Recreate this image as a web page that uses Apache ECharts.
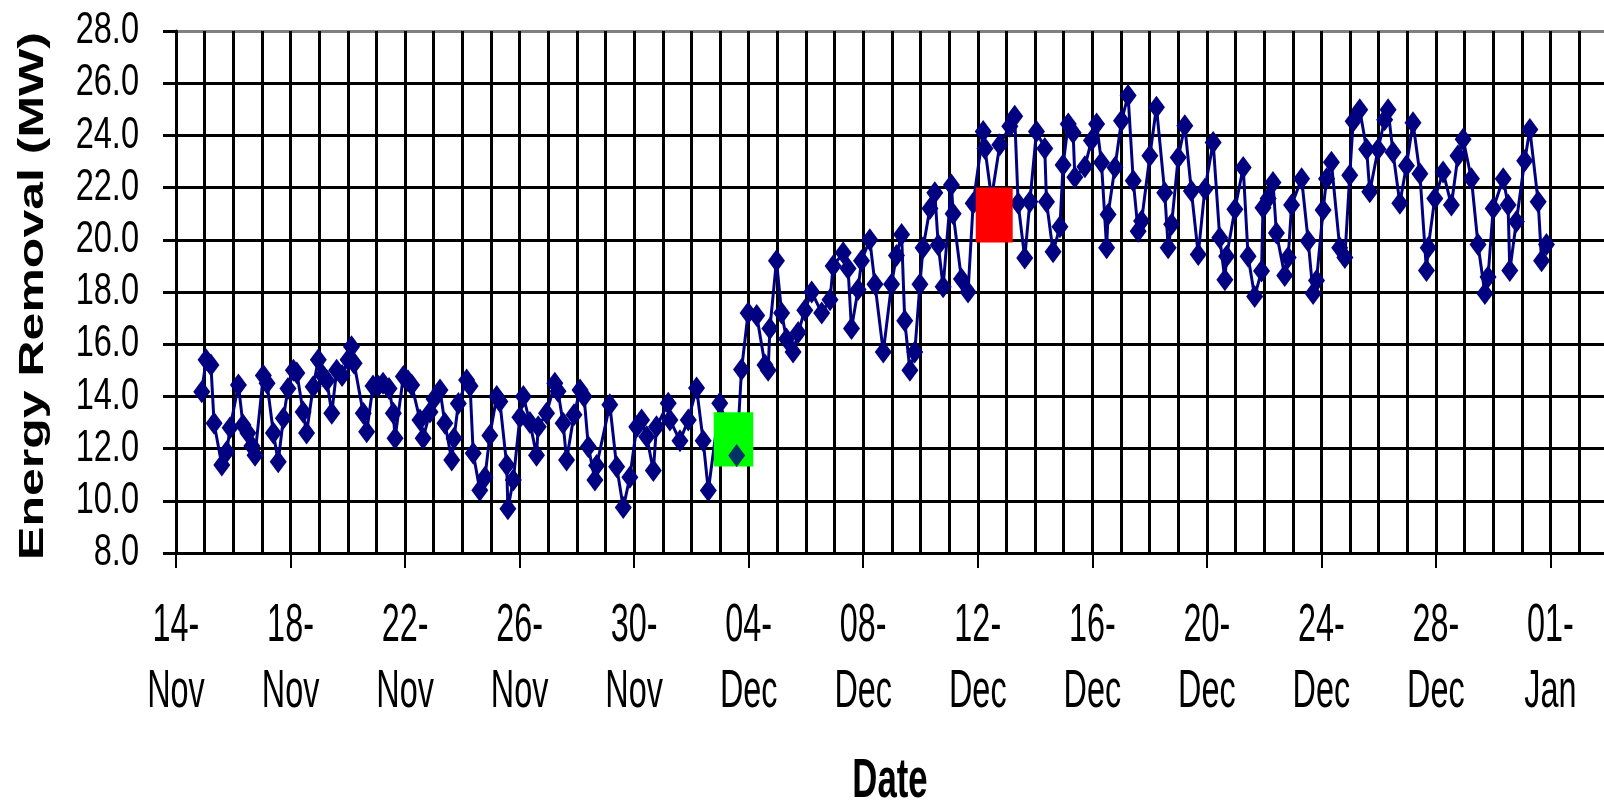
<!DOCTYPE html>
<html>
<head>
<meta charset="utf-8">
<script src="https://cdn.jsdelivr.net/npm/echarts@6/dist/echarts.min.js"></script>
<style>
  html, body { margin: 0; padding: 0; background: #fff; }
  #chart { width: 1604px; height: 802px; }
</style>
</head>
<body>
<div id="chart"></div>
<script>
// X axis: days after 14-Nov; labels every 4 days
const xTickDays = [0, 4, 8, 12, 16, 20, 24, 28, 32, 36, 40, 44, 48];
const xTickLabels = ['14-\nNov', '18-\nNov', '22-\nNov', '26-\nNov', '30-\nNov', '04-\nDec', '08-\nDec',
  '12-\nDec', '16-\nDec', '20-\nDec', '24-\nDec', '28-\nDec', '01-\nJan'];
const yTickValues = [8, 10, 12, 14, 16, 18, 20, 22, 24, 26, 28];
const yTitle = 'Energy Removal (MW)';
const xTitle = 'Date';

// [days after 14-Nov, energy removal MW]
const readingsNov = [
  [0.90, 14.18], [1.05, 15.40], [1.22, 15.20], [1.33, 12.97], [1.60, 11.37], [1.77, 11.88], [1.89, 12.80],
  [2.18, 14.44], [2.34, 12.90], [2.51, 12.60], [2.65, 12.10], [2.76, 11.75], [3.05, 14.80], [3.18, 14.50],
  [3.40, 12.60], [3.57, 11.50], [3.75, 13.16], [3.91, 14.30], [4.10, 15.00], [4.22, 14.90], [4.44, 13.40],
  [4.56, 12.60], [4.79, 14.37], [4.97, 15.40], [5.13, 14.80], [5.27, 14.60], [5.44, 13.35], [5.61, 15.00],
  [5.80, 14.80], [6.01, 15.40], [6.13, 15.90], [6.22, 15.27], [6.54, 13.35], [6.66, 12.65], [6.88, 14.40],
  [7.06, 14.40], [7.23, 14.50], [7.44, 14.30], [7.59, 13.35], [7.65, 12.40], [7.94, 14.76], [8.10, 14.60],
  [8.23, 14.44], [8.52, 13.10], [8.63, 12.40], [8.87, 13.40], [9.01, 13.90], [9.22, 14.25], [9.39, 12.97],
  [9.63, 11.56], [9.71, 12.40], [9.86, 13.73], [10.15, 14.63], [10.27, 14.40], [10.38, 11.82], [10.61, 10.40],
  [10.79, 10.90], [10.96, 12.50], [11.20, 14.00], [11.31, 13.80], [11.55, 11.37], [11.59, 9.70], [11.78, 10.80],
  [12.01, 13.20], [12.13, 14.00], [12.36, 13.00], [12.59, 11.75], [12.65, 12.84], [12.94, 13.35], [13.23, 14.50],
  [13.34, 14.20], [13.52, 12.97], [13.64, 11.56], [13.90, 13.30], [14.11, 14.25], [14.25, 14.00], [14.40, 12.07],
  [14.63, 10.80], [14.69, 11.35], [15.15, 13.68], [15.39, 11.30], [15.62, 9.74], [15.85, 10.90], [16.09, 12.84],
  [16.26, 13.10], [16.44, 12.45], [16.67, 11.16]
];
const readingsEarlyDec = [
  [16.78, 12.84], [17.19, 13.74], [17.25, 13.10], [17.60, 12.30], [17.89, 13.10], [18.18, 14.32], [18.41, 12.30],
  [18.59, 10.39], [18.99, 13.74], [19.58, 11.74], [19.75, 15.03], [19.98, 17.20], [20.28, 17.10], [20.57, 15.20],
  [20.68, 15.00], [20.74, 16.60], [20.97, 19.20], [21.15, 17.20], [21.32, 16.20], [21.55, 15.70], [21.73, 16.45],
  [21.96, 17.30], [22.20, 18.00], [22.55, 17.20], [22.84, 17.70], [22.95, 19.00], [23.30, 19.50], [23.47, 18.90],
  [23.59, 16.60], [23.82, 18.10], [23.94, 19.20], [24.23, 20.00], [24.41, 18.30], [24.70, 15.70], [24.99, 18.30],
  [25.16, 19.40], [25.34, 20.20], [25.45, 16.90], [25.63, 15.00], [25.80, 15.70], [25.98, 18.30], [26.09, 19.70],
  [26.33, 21.20], [26.50, 21.80], [26.62, 19.80], [26.79, 18.20], [27.08, 22.10], [27.14, 21.00], [27.43, 18.50],
  [27.66, 18.00], [27.84, 21.40]
];
const readingsMidDec = [
  [28.19, 24.15], [28.25, 23.50], [28.48, 21.60], [28.77, 23.64], [29.12, 24.35], [29.29, 24.73], [29.41, 21.40],
  [29.64, 19.30], [29.82, 21.46], [30.05, 24.15], [30.34, 23.50], [30.40, 21.46], [30.63, 19.54], [30.87, 20.50],
  [30.98, 22.87], [31.16, 24.44], [31.33, 24.10], [31.39, 22.40], [31.74, 22.80], [31.97, 23.80], [32.15, 24.44],
  [32.32, 22.96], [32.50, 19.70], [32.55, 20.97], [32.79, 22.77], [33.02, 24.56], [33.25, 25.53], [33.43, 22.26],
  [33.60, 20.33], [33.72, 20.72], [34.01, 23.22], [34.24, 25.08], [34.53, 21.80], [34.65, 19.70], [34.77, 20.60],
  [35.00, 23.15], [35.23, 24.37], [35.46, 21.87], [35.70, 19.44], [35.93, 21.94], [36.22, 23.73], [36.45, 20.08],
  [36.63, 18.47], [36.69, 19.37], [36.98, 21.17], [37.27, 22.77], [37.44, 19.37], [37.67, 17.83], [37.91, 18.80],
  [37.96, 21.23]
];
const readingsLateDec = [
  [38.14, 21.58], [38.31, 22.20], [38.43, 20.26], [38.72, 18.63], [38.84, 19.32], [38.96, 21.33], [39.31, 22.34],
  [39.54, 19.95], [39.71, 17.94], [39.83, 18.44], [40.06, 21.14], [40.18, 22.34], [40.35, 22.97], [40.64, 19.70],
  [40.82, 19.32], [40.99, 22.47], [41.11, 24.54], [41.34, 24.98], [41.58, 23.47], [41.69, 21.84], [41.98, 23.47],
  [42.21, 24.60], [42.33, 24.98], [42.50, 23.35], [42.74, 21.40], [42.97, 22.84], [43.20, 24.48], [43.44, 22.53],
  [43.67, 18.82], [43.73, 19.70], [43.96, 21.58], [44.25, 22.60], [44.54, 21.33], [44.77, 23.22], [44.95, 23.85],
  [45.24, 22.34], [45.47, 19.82], [45.71, 17.94], [45.82, 18.57], [46.00, 21.20], [46.35, 22.34], [46.52, 21.33],
  [46.58, 18.82], [46.81, 20.70], [47.10, 23.03], [47.28, 24.23], [47.57, 21.46], [47.69, 19.20], [47.86, 19.82]
];

// highlighted boxes: [xStart, xEnd, yLow, yHigh] in days / MW
const highlightBoxes = [
  [18.78, 20.16, 11.31, 13.39],
  [27.93, 29.22, 19.90, 22.00]
];
const highlightBoxColors = ['#00FF00', '#FF0000'];
const highlightPoint = [[19.58, 11.74]];

const allReadings = readingsNov.concat(readingsEarlyDec, readingsMidDec, readingsLateDec);

const FONT = "'Liberation Sans', Arial, sans-serif";

const chart = echarts.init(document.getElementById('chart'), null, { renderer: 'canvas' });
const yLineColors = ['#000', '#000', '#000', '#000', '#000', '#000', '#000', '#000', '#000', '#000', '#808080'];

chart.setOption({
  animation: false,
  backgroundColor: '#ffffff',
  grid: { left: 176, width: 1489, top: 31, bottom: 249, containLabel: false, outerBoundsMode: 'none' },
  xAxis: {
    type: 'value',
    min: 0, max: 52, interval: 4,
    axisLine: { show: true, onZero: false, lineStyle: { color: '#000', width: 3 } },
    axisTick: { show: true, length: 15, lineStyle: { color: '#000', width: 2 } },
    minorTick: { show: false, splitNumber: 4 },
    splitLine: { show: true, lineStyle: { color: '#000', width: 3 } },
    minorSplitLine: { show: true, lineStyle: { color: '#000', width: 3 } },
    axisLabel: { show: false }
  },
  yAxis: {
    type: 'value',
    min: 8, max: 28, interval: 2,
    axisLine: { show: true, lineStyle: { color: '#000', width: 3 } },
    axisTick: { show: true, length: 13, lineStyle: { color: '#000', width: 3 } },
    splitLine: { show: true, lineStyle: { color: yLineColors, width: 3 } },
    axisLabel: { show: false }
  },
  series: [
    {
      type: 'line',
      data: allReadings,
      z: 2,
      symbol: 'diamond',
      symbolSize: [17, 23],
      showAllSymbol: true,
      lineStyle: { color: '#000080', width: 3 },
      itemStyle: { color: '#000080' },
      emphasis: { disabled: true }
    },
    {
      type: 'custom',
      z: 3,
      data: highlightBoxes,
      encode: { x: [0, 1], y: [2, 3] },
      renderItem: function (params, api) {
        const p0 = api.coord([api.value(0), api.value(3)]);
        const p1 = api.coord([api.value(1), api.value(2)]);
        return {
          type: 'rect',
          shape: { x: p0[0], y: p0[1], width: p1[0] - p0[0], height: p1[1] - p0[1] },
          style: { fill: highlightBoxColors[params.dataIndex] }
        };
      }
    },
    {
      type: 'scatter',
      z: 4,
      data: highlightPoint,
      symbol: 'diamond',
      symbolSize: [17, 23],
      itemStyle: { color: '#000080' }
    }
  ]
});

// Condensed (horizontally squeezed) text, placed through the axes' own scales
const axisX = chart.convertToPixel({ xAxisIndex: 0 }, 0);
const axisY = chart.convertToPixel({ yAxisIndex: 0 }, 8);
const topY = chart.convertToPixel({ yAxisIndex: 0 }, 28);
const texts = [];

yTickValues.forEach(function (v) {
  texts.push({
    type: 'text', silent: true,
    x: axisX - 37, y: chart.convertToPixel({ yAxisIndex: 0 }, v),
    scaleX: 0.74,
    style: {
      text: v.toFixed(1), font: '44px ' + FONT, fill: '#000',
      align: 'right', verticalAlign: 'middle', textAlign: 'right', textVerticalAlign: 'middle'
    }
  });
});

xTickDays.forEach(function (d, i) {
  texts.push({
    type: 'text', silent: true,
    x: chart.convertToPixel({ xAxisIndex: 0 }, d), y: axisY + 40,
    scaleX: 0.6,
    style: {
      text: xTickLabels[i], font: '54px ' + FONT, lineHeight: 66, fill: '#000',
      align: 'center', verticalAlign: 'top', textAlign: 'center', textVerticalAlign: 'top'
    }
  });
});

texts.push({
  type: 'text', silent: true,
  x: (axisX + 1604) / 2, y: 782,
  scaleX: 0.62,
  style: {
    text: xTitle, font: 'bold 56px ' + FONT, fill: '#000',
    align: 'center', verticalAlign: 'middle', textAlign: 'center', textVerticalAlign: 'middle'
  }
});

texts.push({
  type: 'text', silent: true,
  x: 33, y: (topY + axisY) / 2 + 4,
  rotation: Math.PI / 2,
  scaleY: 0.72,
  style: {
    text: yTitle, font: 'bold 50px ' + FONT, fill: '#000',
    align: 'center', verticalAlign: 'middle', textAlign: 'center', textVerticalAlign: 'middle'
  }
});

chart.setOption({ graphic: { elements: texts } });
</script>
</body>
</html>
